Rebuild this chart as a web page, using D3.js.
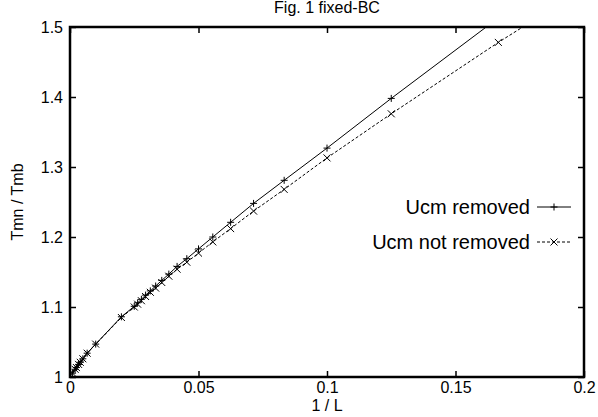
<!DOCTYPE html>
<html><head><meta charset="utf-8">
<script src="https://cdn.jsdelivr.net/npm/d3@7"></script>
<style>body{margin:0;background:#fff}svg{display:block}text{font-family:"Liberation Sans",Arial,Helvetica,sans-serif;fill:#000}</style>
</head><body><div id="chart"></div>
<script>
const title = "Fig. 1 fixed-BC";
const xLabel = "1 / L";
const yLabel = "Tmn / Tmb";
const xTicks = [0, 0.05, 0.1, 0.15, 0.2];
const xTickLabels = ["0", "0.05", "0.1", "0.15", "0.2"];
const yTicks = [1, 1.1, 1.2, 1.3, 1.4, 1.5];
const yTickLabels = ["1", "1.1", "1.2", "1.3", "1.4", "1.5"];
const seriesNames = ["Ucm removed", "Ucm not removed"];
const removedX = [0.16667, 0.125, 0.1, 0.08333, 0.07143, 0.0625, 0.05556, 0.05, 0.04545, 0.04167, 0.03846, 0.03571, 0.03333, 0.03125, 0.02941, 0.02778, 0.02632, 0.025, 0.02, 0.01, 0.00667, 0.005, 0.004, 0.00333, 0.0025, 0.002, 0.001];
const removedY = [1.513, 1.398, 1.327, 1.281, 1.248, 1.221, 1.200, 1.183, 1.169, 1.158, 1.147, 1.138, 1.130, 1.123, 1.117, 1.111, 1.106, 1.101, 1.086, 1.047, 1.034, 1.026, 1.021, 1.018, 1.0135, 1.011, 1.0055];
const notRemovedX = [0.2, 0.16667, 0.125, 0.1, 0.08333, 0.07143, 0.0625, 0.05556, 0.05, 0.04545, 0.04167, 0.03846, 0.03571, 0.03333, 0.03125, 0.02941, 0.02778, 0.02632, 0.025, 0.02, 0.01, 0.00667, 0.005, 0.004, 0.00333, 0.0025, 0.002, 0.001];
const notRemovedY = [1.555, 1.478, 1.376, 1.313, 1.268, 1.237, 1.212, 1.193, 1.177, 1.164, 1.154, 1.144, 1.135, 1.127, 1.121, 1.115, 1.109, 1.104, 1.100, 1.085, 1.047, 1.034, 1.026, 1.021, 1.018, 1.0135, 1.011, 1.0055];

const W = 598, H = 417;
const m = {left: 70, right: 584, top: 27, bottom: 377};
const x = d3.scaleLinear().domain([0, 0.2]).range([m.left, m.right]);
const y = d3.scaleLinear().domain([1, 1.5]).range([m.bottom, m.top]);

const svg = d3.select("#chart").append("svg").attr("width", W).attr("height", H);
svg.append("defs").append("clipPath").attr("id", "clip")
  .append("rect").attr("x", m.left).attr("y", m.top).attr("width", m.right - m.left).attr("height", m.bottom - m.top);

const fmtX = d => xTickLabels[xTicks.indexOf(d)];
const fmtY = d => yTickLabels[yTicks.indexOf(d)];
function style(g){ g.select(".domain").remove(); g.selectAll("line").attr("stroke","#000").attr("stroke-width",1.5); g.selectAll("text").attr("font-size",16).attr("font-family","Liberation Sans, Arial, sans-serif"); }
svg.append("g").attr("transform",`translate(0,${m.bottom})`)
  .call(d3.axisBottom(x).tickValues(xTicks).tickFormat(fmtX).tickSizeInner(-6).tickSizeOuter(0).tickPadding(5)).call(style);
svg.append("g").attr("transform",`translate(0,${m.top})`)
  .call(d3.axisTop(x).tickValues(xTicks).tickFormat("").tickSizeInner(-6).tickSizeOuter(0)).call(style);
svg.append("g").attr("transform",`translate(${m.left},0)`)
  .call(d3.axisLeft(y).tickValues(yTicks).tickFormat(fmtY).tickSizeInner(-6).tickSizeOuter(0).tickPadding(7)).call(style);
svg.append("g").attr("transform",`translate(${m.right},0)`)
  .call(d3.axisRight(y).tickValues(yTicks).tickFormat("").tickSizeInner(-6).tickSizeOuter(0)).call(style);

svg.append("rect").attr("x", m.left).attr("y", m.top).attr("width", m.right - m.left).attr("height", m.bottom - m.top)
  .attr("fill","none").attr("stroke","#000").attr("stroke-width",2.5);

const line = d3.line().x(d => x(d[0])).y(d => y(d[1]));
const s1 = removedX.map((v,i)=>[v, removedY[i]]);
const s2 = notRemovedX.map((v,i)=>[v, notRemovedY[i]]);
const plot = svg.append("g").attr("clip-path","url(#clip)");
plot.append("path").datum(s1).attr("d", line).attr("fill","none").attr("stroke","#000").attr("stroke-width",1);
plot.append("path").datum(s2).attr("d", line).attr("fill","none").attr("stroke","#000").attr("stroke-width",1).attr("stroke-dasharray","3,2");

const r = 3.5;
function plus(g, cx, cy){ g.append("path").attr("d",`M${cx-r},${cy}H${cx+r}M${cx},${cy-r}V${cy+r}`).attr("stroke","#000").attr("stroke-width",1).attr("fill","none"); }
function cross(g, cx, cy){ g.append("path").attr("d",`M${cx-r},${cy-r}L${cx+r},${cy+r}M${cx-r},${cy+r}L${cx+r},${cy-r}`).attr("stroke","#000").attr("stroke-width",1).attr("fill","none"); }
s1.forEach(d => plus(plot, x(d[0]), y(d[1])));
s2.forEach(d => cross(plot, x(d[0]), y(d[1])));

svg.append("text").attr("x",(m.left+m.right)/2).attr("y",13).attr("text-anchor","middle").attr("font-size",16).text(title);
svg.append("text").attr("x",(m.left+m.right)/2).attr("y",411).attr("text-anchor","middle").attr("font-size",16).text(xLabel);
svg.append("text").attr("transform",`translate(23,${(m.top+m.bottom)/2}) rotate(-90)`).attr("text-anchor","middle").attr("font-size",16).text(yLabel);

const leg = [{name: seriesNames[0], y: 207, dash: null, mk: plus}, {name: seriesNames[1], y: 242, dash: "3,2", mk: cross}];
leg.forEach(l => {
  svg.append("text").attr("x",530).attr("y",l.y).attr("dy","0.35em").attr("text-anchor","end").attr("font-size",20).text(l.name);
  const ln = svg.append("line").attr("x1",537).attr("x2",571).attr("y1",l.y).attr("y2",l.y).attr("stroke","#000").attr("stroke-width",1);
  if (l.dash) ln.attr("stroke-dasharray", l.dash);
  l.mk(svg, 554, l.y);
});
</script></body></html>
